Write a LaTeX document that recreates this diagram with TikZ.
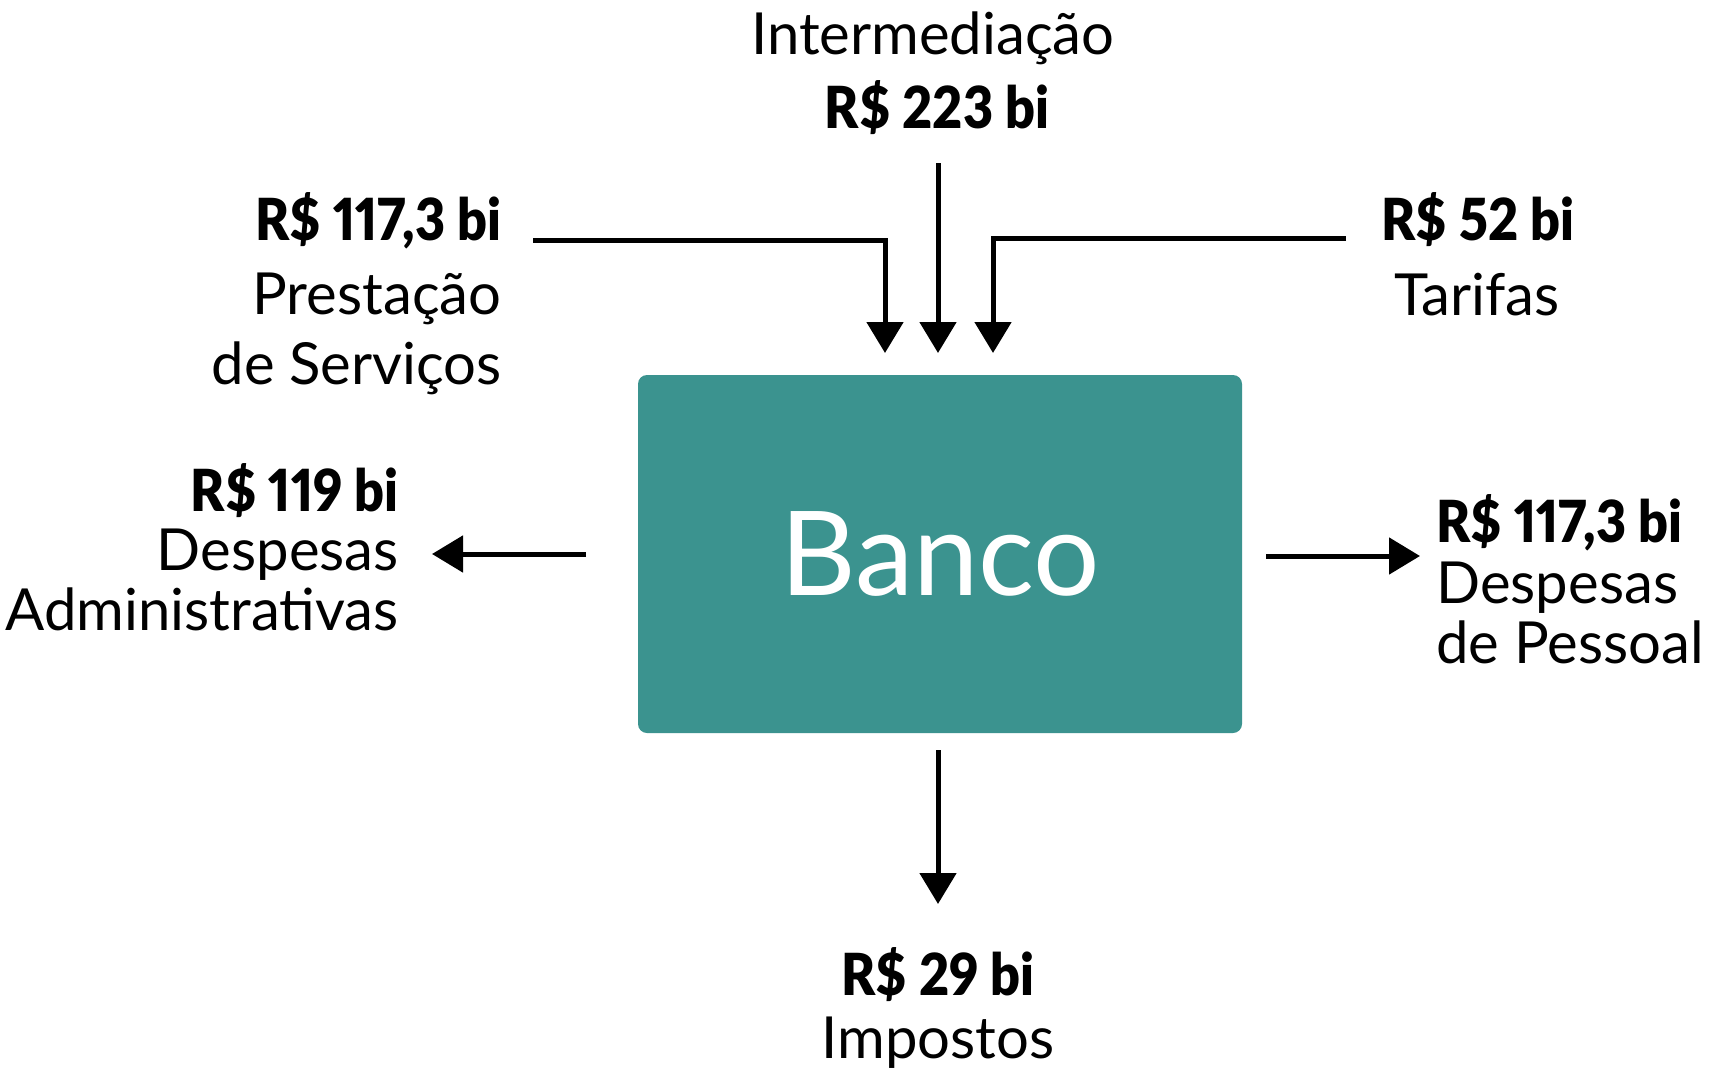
\documentclass[tikz,border=0pt]{standalone}
\usepackage{fontspec}
\setmainfont{Lato}[BoldFont={Lato Black},BoldFeatures={FakeStretch=0.9,Numbers=Proportional}]
\usetikzlibrary{arrows.meta}
\definecolor{bancoteal}{RGB}{59,147,143}
\begin{document}
\begin{tikzpicture}[x=0.5pt,y=-0.5pt,
    flow/.style={line width=2.5pt,-{Triangle[width=18pt,length=15.5pt]}},
    lbl/.style={inner sep=0pt,font=\fontsize{29}{35}\selectfont},
    val/.style={inner sep=0pt,font=\fontsize{29}{35}\selectfont\bfseries}]
\useasboundingbox (0,0) rectangle (1722,1070);
% banco
\node[fill=bancoteal,rounded corners=4.5pt,minimum width=302pt,minimum height=179pt,inner sep=0pt,
      text=white,font=\fontsize{58.6}{60}\selectfont] (banco) at (940,554) {Banco};
% labels
\node[lbl,anchor=base] (intlbl) at (933,55) {Intermediação};
\node[val,anchor=base] (intval) at (937,128) {R\$ 223 bi};
\node[val,anchor=base east] (prestval) at (502,240) {R\$ 117,3 bi};
\node[lbl,anchor=base east] (prestlbl) at (502,314) {Prestação};
\node[lbl,anchor=base east] (prestlblb) at (502,384) {de Serviços};
\node[val,anchor=base] (tarval) at (1478,240) {R\$ 52 bi};
\node[lbl,anchor=base] (tarlbl) at (1477,315) {Tarifas};
\node[val,anchor=base east] (admval) at (399,511) {R\$ 119 bi};
\node[lbl,anchor=base east] (admlbl) at (399,570) {Despesas};
\node[lbl,anchor=base east] (admlblb) at (399,630) {Administrativas};
\node[val,anchor=base west] (pesval) at (1436,542) {R\$ 117,3 bi};
\node[lbl,anchor=base west] (peslbl) at (1436,603) {Despesas};
\node[lbl,anchor=base west] (peslblb) at (1436,663) {de Pessoal};
\node[val,anchor=base] (impval) at (938,995) {R\$ 29 bi};
\node[lbl,anchor=base] (implbl) at (938,1058) {Impostos};
% arrow ends
\coordinate (prestin) at (533,240);
\coordinate (prestend) at (885,353);
\coordinate (intin) at (938,163);
\coordinate (intend) at (938,353);
\coordinate (tarin) at (1346,238);
\coordinate (tarend) at (993,353);
\coordinate (admout) at (586,554);
\coordinate (admend) at (432,554);
\coordinate (pesout) at (1266,556);
\coordinate (pesend) at (1420,556);
\coordinate (impout) at (938,750);
\coordinate (impend) at (938,904);
% arrows
\draw[flow] (prestin) -| (prestend);
\draw[flow] (intin) -- (intend);
\draw[flow] (tarin) -| (tarend);
\draw[flow] (admout) -- (admend);
\draw[flow] (pesout) -- (pesend);
\draw[flow] (impout) -- (impend);
\end{tikzpicture}
\end{document}
